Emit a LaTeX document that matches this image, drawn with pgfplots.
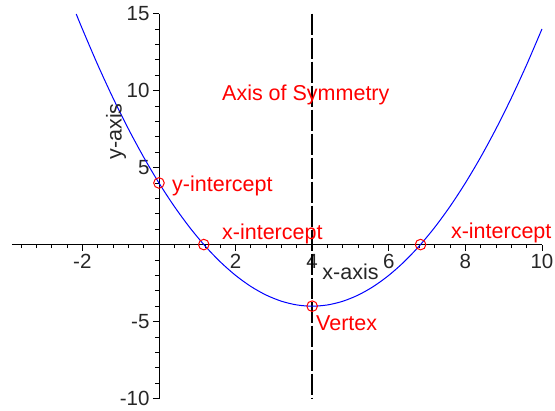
\documentclass[border=0pt]{standalone}
\usepackage{fontspec}
\setmainfont{Liberation Sans}
\usepackage{pgfplots}
\pgfplotsset{compat=1.18}

\definecolor{mapleblue}{RGB}{0,0,255}
\definecolor{maplered}{RGB}{255,0,0}

\begin{document}
\begin{tikzpicture}
\begin{axis}[
    x=38.3pt, y=15.4pt,
    xmin=-3.84, xmax=10, ymin=-10, ymax=15,
    axis lines=middle,
    axis line style={-, black, line width=0.9pt},
    clip=false,
    tick align=outside,
    major tick length=6pt, minor tick length=3.5pt,
    every tick/.style={black, line width=0.8pt},
    xtick={-2,2,4,6,8,10}, xticklabels={-2,2,4,6,8,10},
    ytick={-10,-5,5,10,15}, yticklabels={-10,-5,5,10,15},
    minor xtick={-3.6,-3.2,-2.8,-2.4,-1.6,-1.2,-0.8,-0.4,0.4,0.8,1.2,1.6,2.4,2.8,3.2,3.6,4.4,4.8,5.2,5.6,6.4,6.8,7.2,7.6,8.4,8.8,9.2,9.6},
    minor ytick={-9,-8,-7,-6,-4,-3,-2,-1,1,2,3,4,6,7,8,9,11,12,13,14},
    tick label style={font=\fontsize{20.5}{23}\selectfont, text=black!85},
]
% axis of symmetry
\addplot[black, line width=1.4pt, dash pattern=on 21pt off 3pt] coordinates {(4,15) (4,-10)};
% parabola
\addplot[mapleblue, line width=1pt, smooth] coordinates {
 (-2.16,14.97) (-2,14) (-1.6,11.68) (-1.2,9.52) (-0.8,7.52) (-0.4,5.68)
 (0,4) (0.4,2.48) (0.8,1.12) (1.2,-0.08) (1.6,-1.12) (2,-2)
 (2.4,-2.72) (2.8,-3.28) (3.2,-3.68) (3.6,-3.92) (4,-4) (4.4,-3.92)
 (4.8,-3.68) (5.2,-3.28) (5.6,-2.72) (6,-2) (6.4,-1.12) (6.8,-0.08)
 (7.2,1.12) (7.6,2.48) (8,4) (8.4,5.68) (8.8,7.52) (9.2,9.52)
 (9.6,11.68) (10,14)};
% key points
\addplot[only marks, mark=o, mark size=5.3pt, maplered, line width=1pt]
  coordinates {(0,4) (1.17,0) (6.83,0) (4,-4)};
\begin{scope}[every node/.style={font=\fontsize{21.5}{24}\selectfont, inner sep=0pt}]
\node[anchor=base west, text=maplered] at (axis cs:1.645,9.35) {Axis of Symmetry};
\node[anchor=base west, text=maplered] at (axis cs:0.34,3.44) {y-intercept};
\node[anchor=base west, text=maplered] at (axis cs:1.645,0.32) {x-intercept};
\node[anchor=base west, text=maplered] at (axis cs:7.62,0.39) {x-intercept};
\node[anchor=base west, text=maplered] at (axis cs:4.10,-5.58) {Vertex};
\node[anchor=center, text=black!85] at (axis cs:5.0,-1.75) {x-axis};
\node[anchor=center, rotate=90, text=black!85] at (axis cs:-1.12,7.34) {y-axis};
\end{scope}
\coordinate (bl) at (axis cs:-4.15,-10.78);
\coordinate (tr) at (axis cs:10.34,15.88);
\end{axis}
\pgfresetboundingbox
\useasboundingbox (bl) rectangle (tr);
\end{tikzpicture}
\end{document}
